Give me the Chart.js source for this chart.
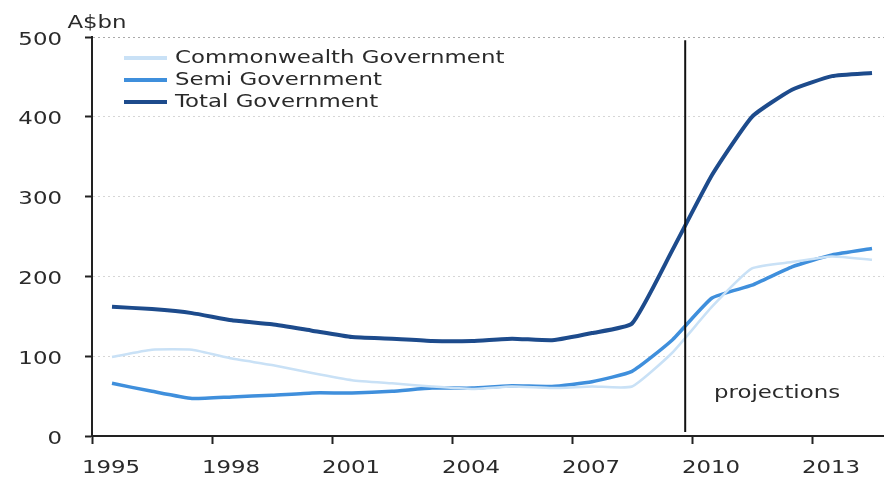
<!DOCTYPE html>
<html>
<head>
<meta charset="utf-8">
<script src="https://cdn.jsdelivr.net/npm/chart.js@4.4.1/dist/chart.umd.min.js"></script>
<style>
  html, body { margin: 0; padding: 0; background: #fff; }
  #wrap { width: 884px; height: 479px; position: relative; }
</style>
</head>
<body>
<div id="wrap"><canvas id="debtChart"></canvas></div>
<script>
// financial years (points sit mid-year)
var years = [1995.5, 1996.5, 1997.5, 1998.5, 1999.5, 2000.5, 2001.5, 2002.5, 2003.5, 2004.5,
             2005.5, 2006.5, 2007.5, 2008.5, 2009.5, 2010.5, 2011.5, 2012.5, 2013.5, 2014.5];
var commonwealth = [99, 108, 108, 97, 89, 79, 70, 66, 62, 59, 62, 60, 62, 62, 104, 162, 210, 218, 225, 221];
var semi = [66, 56, 47, 49, 51, 54, 54, 56, 60, 60, 63, 62, 68, 81, 120, 173, 189, 212, 227, 235];
var total = [162, 159, 154, 145, 140, 132, 124, 122, 119, 119, 122, 120, 129, 141, 232, 327, 400, 434, 451, 455];
var seriesNames = ['Commonwealth Government', 'Semi Government', 'Total Government'];
var xTickLabels = [1995, 1998, 2001, 2004, 2007, 2010, 2013];
var projectionStart = 2009.83;

function pts(vals) {
  return vals.map(function (v, i) { return { x: years[i], y: v }; });
}

var FONT = "'DejaVu Sans', Verdana, sans-serif";
var STRETCH = 1.27; // the source text is drawn wide
Chart.defaults.font.family = FONT;

function wideText(ctx, txt, x, y, align) {
  ctx.save();
  ctx.translate(x, y);
  ctx.scale(STRETCH, 1);
  ctx.textAlign = align;
  ctx.fillText(txt, 0, 0);
  ctx.restore();
}

// tick labels, projection divider, unit label, legend
var extras = {
  id: 'extras',
  afterDatasetsDraw: function (chart) {
    var ctx = chart.ctx, xs = chart.scales.x, ys = chart.scales.y;
    ctx.save();
    ctx.fillStyle = '#2a2a2a';
    ctx.textBaseline = 'middle';
    ctx.font = "18px " + FONT;
    ys.ticks.forEach(function (t) {
      wideText(ctx, String(t.value), 62, ys.getPixelForValue(t.value) + 3, 'right');
    });
    xs.ticks.forEach(function (t) {
      wideText(ctx, String(t.value), xs.getPixelForValue(t.value) + 19, 468, 'center');
    });

    var px = xs.getPixelForValue(projectionStart);
    ctx.strokeStyle = '#111';
    ctx.lineWidth = 2;
    ctx.beginPath();
    ctx.moveTo(px, ys.getPixelForValue(496));
    ctx.lineTo(px, ys.getPixelForValue(5));
    ctx.stroke();

    wideText(ctx, 'projections', xs.getPixelForValue(2010.55), ys.getPixelForValue(54), 'left');
    wideText(ctx, 'A$bn', 97, 23, 'center');

    // legend
    chart.data.datasets.forEach(function (ds, i) {
      var y = 58 + i * 22;
      ctx.strokeStyle = ds.borderColor;
      ctx.lineWidth = 4;
      ctx.beginPath();
      ctx.moveTo(124, y);
      ctx.lineTo(167, y);
      ctx.stroke();
      wideText(ctx, ds.label, 175, y, 'left');
    });
    ctx.restore();
  }
};

var chart = new Chart(document.getElementById('debtChart'), {
  type: 'line',
  data: {
    datasets: [
      { label: seriesNames[0], data: pts(commonwealth), borderColor: '#c9e1f6', borderWidth: 2.5 },
      { label: seriesNames[1], data: pts(semi), borderColor: '#3f8fdc', borderWidth: 3.5 },
      { label: seriesNames[2], data: pts(total), borderColor: '#1d4b8c', borderWidth: 4 }
    ]
  },
  options: {
    responsive: true,
    maintainAspectRatio: false,
    animation: false,
    layout: { padding: { top: 37, right: 0, left: 0, bottom: 0 } },
    elements: { point: { radius: 0 }, line: { tension: 0.15 } },
    plugins: { legend: { display: false }, tooltip: { enabled: false } },
    scales: {
      x: {
        type: 'linear',
        min: 1995,
        max: 2014.8,
        afterFit: function (s) { s.width = 884; s.height = 43; },
        afterBuildTicks: function (s) {
          s.ticks = xTickLabels.map(function (v) { return { value: v }; });
        },
        ticks: { display: false },
        grid: { drawOnChartArea: false, tickLength: 8, tickColor: '#222', tickWidth: 2 },
        border: { color: '#222', width: 2 }
      },
      y: {
        min: 0,
        max: 500,
        afterFit: function (s) { s.width = 92; },
        ticks: { display: false, stepSize: 100 },
        grid: {
          color: function (c) { return c.tick && c.tick.value === 500 ? '#aaa' : '#d6d6d6'; },
          lineWidth: 1,
          tickLength: 7,
          tickColor: '#222',
          tickWidth: 2,
          tickBorderDash: []
        },
        border: { color: '#222', width: 2, dash: [2, 3] }
      }
    }
  },
  plugins: [extras]
});
</script>
</body>
</html>
